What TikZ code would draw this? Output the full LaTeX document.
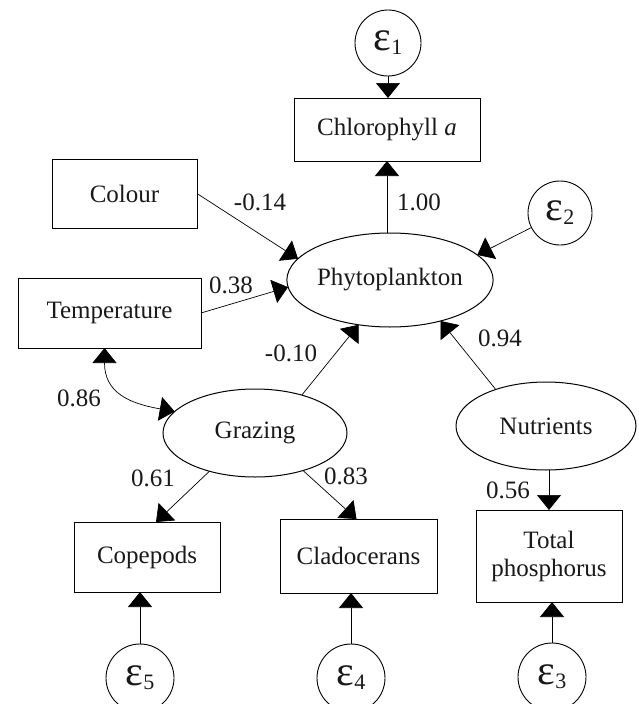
\documentclass[tikz,border=0pt]{standalone}
\usepackage{fontspec}
\setmainfont{Liberation Serif}
\usetikzlibrary{arrows.meta,shapes.geometric}
\newcommand{\epsl}[1]{{\fontsize{42}{42}\selectfont ε}\raisebox{-4pt}{\fontsize{22}{22}\selectfont #1}}
\tikzset{
  txt/.style={font=\fontsize{25}{28}\selectfont, text=black!90, inner sep=0pt, outer sep=0pt},
  obs/.style={txt, draw, line width=1pt, rectangle, align=center},
  lat/.style={txt, draw, line width=1pt, ellipse},
  err/.style={txt, draw, line width=0.9pt, circle},
  path/.style={line width=0.7pt, -{Triangle[length=15pt,width=24pt]}},
  biarrow/.style={line width=0.7pt, {Triangle[length=15pt,width=24pt]}-{Triangle[length=15pt,width=24pt]}},
  lab/.style={txt}
}
\begin{document}
\begin{tikzpicture}[x=1pt,y=-1pt]
\useasboundingbox (0,0) rectangle (638,704);
% nodes
\node[err, minimum size=66pt] (e1) at (388,43) {\epsl{1}};
\node[obs, minimum width=186pt, minimum height=63pt] (chl) at (387,129.5) {Chlorophyll \textit{a}};
\node[lat, minimum width=206pt, minimum height=94pt] (phyto) at (390,280) {Phytoplankton};
\node[err, minimum size=64pt] (e2) at (560,213) {\epsl{2}};
\node[obs, minimum width=145pt, minimum height=69pt] (colour) at (124.5,193.5) {Colour};
\node[obs, minimum width=183pt, minimum height=70pt] (temp) at (109.5,313) {Temperature};
\node[lat, minimum width=184pt, minimum height=88pt] (graz) at (255,433) {Grazing};
\node[lat, minimum width=180pt, minimum height=88pt] (nutr) at (546,426) {Nutrients};
\node[obs, minimum width=146pt, minimum height=70pt] (cope) at (147,557) {Copepods};
\node[obs, minimum width=157pt, minimum height=74pt] (clad) at (358.5,556) {Cladocerans};
\node[obs, minimum width=146pt, minimum height=92pt] (tp) at (549,556) {Total\\phosphorus};
\node[err, minimum size=68pt] (e5) at (140,678) {\epsl{5}};
\node[err, minimum size=68pt] (e4) at (351,678) {\epsl{4}};
\node[err, minimum size=68pt] (e3) at (552,677) {\epsl{3}};
% connectors
\draw[path] (e1.south) -- (e1.south |- chl.north);
\draw[path] (phyto.north -| chl.south) -- (chl.south);
\draw[path] (e2) -- (phyto.16.5);
\draw[path] (colour.east) -- (phyto.167.5);
\draw[path] (temp.east) -- (phyto.184);
\draw[path] (graz.39) -- (phyto.235);
\draw[path] (nutr.144) -- (phyto.321);
\draw[path] (nutr.south -| tp.north) -- (tp.north);
\draw[biarrow] ([xshift=-5pt]temp.south) .. controls +(0,45) and +(-45,-8) .. (graz.165);
\draw[path] (graz.220) -- ([xshift=9pt]cope.north);
\draw[path] (graz.322) -- ([xshift=-2pt]clad.north);
\draw[path] (e5.north) -- (e5.north |- cope.south);
\draw[path] (e4.north) -- (e4.north |- clad.south);
\draw[path] (e3.north) -- (e3.north |- tp.south);
% labels
\node[lab] (l1) at (260,202) {-0.14};
\node[lab] (l2) at (231,285) {0.38};
\node[lab] (l3) at (419,202) {1.00};
\node[lab] (l4) at (291,353) {-0.10};
\node[lab] (l5) at (500,338) {0.94};
\node[lab] (l6) at (79,398) {0.86};
\node[lab] (l7) at (153,478) {0.61};
\node[lab] (l8) at (346,476) {0.83};
\node[lab] (l9) at (508,490) {0.56};
\end{tikzpicture}
\end{document}
